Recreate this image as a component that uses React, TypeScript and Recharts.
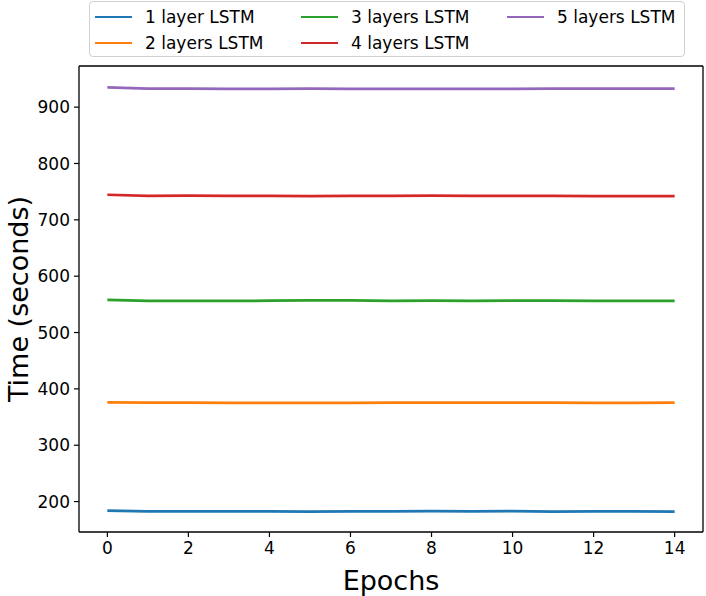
import { Line, LineChart, XAxis, YAxis } from 'recharts';

const epochs = [0, 1, 2, 3, 4, 5, 6, 7, 8, 9, 10, 11, 12, 13, 14];
const oneLayer = [184, 182.5, 182.5, 182.5, 182.5, 182, 182.5, 182.5, 183, 182.5, 183, 182, 182.5, 182.5, 182];
const twoLayers = [376, 375.5, 375.5, 375, 375, 375, 375, 375.5, 375.5, 375.5, 375.5, 375.5, 375, 375, 375.5];
const threeLayers = [558, 556, 556, 556, 556.5, 557, 557, 556, 556.5, 556, 556.5, 556.5, 556, 556, 556];
const fourLayers = [744.5, 742.5, 743, 742.5, 742.5, 742, 742.5, 742.5, 743, 742.5, 742.5, 742.5, 742, 742, 742];
const fiveLayers = [935, 933, 933, 932.5, 932.5, 933, 932.5, 932.5, 932.5, 932.5, 932.5, 933, 933, 933, 933];

const xTicks = [0, 2, 4, 6, 8, 10, 12, 14];
const yTicks = [200, 300, 400, 500, 600, 700, 800, 900];
const xDomain: [number, number] = [-0.7, 14.7];
const yDomain: [number, number] = [146, 973];

const series = [
  { key: 'l1', name: '1 layer LSTM', color: '#1f77b4', values: oneLayer },
  { key: 'l2', name: '2 layers LSTM', color: '#ff7f0e', values: twoLayers },
  { key: 'l3', name: '3 layers LSTM', color: '#2ca02c', values: threeLayers },
  { key: 'l4', name: '4 layers LSTM', color: '#d62728', values: fourLayers },
  { key: 'l5', name: '5 layers LSTM', color: '#9467bd', values: fiveLayers },
];

const data = epochs.map((epoch, i) => {
  const row: Record<string, number> = { epoch };
  series.forEach((s) => {
    row[s.key] = s.values[i];
  });
  return row;
});

// matplotlib fills the legend column by column, 2 rows
const legendCols = [
  [series[0], series[1]],
  [series[2], series[3]],
  [series[4]],
];

function LegendBox() {
  return (
    <div
      style={{
        position: 'absolute',
        left: 89,
        top: 1,
        border: '1px solid #d0d0d0',
        borderRadius: 4,
        background: '#fff',
        width: 596,
        height: 56,
        boxSizing: 'border-box',
        display: 'flex',
        padding: '2px 0 0 5px',
        fontSize: 17,
        color: '#000',
        whiteSpace: 'nowrap',
      }}
    >
      {legendCols.map((col, ci) => (
        <div key={ci} style={{ width: 206, flexShrink: 0 }}>
          {col.map((s) => (
            <div key={s.key} style={{ display: 'flex', alignItems: 'center', height: 26 }}>
              <span
                style={{
                  display: 'inline-block',
                  width: 37,
                  height: 2.7,
                  background: s.color,
                  marginRight: 13,
                  flexShrink: 0,
                }}
              />
              <span>{s.name}</span>
            </div>
          ))}
        </div>
      ))}
    </div>
  );
}

const axisStroke = { stroke: '#000', strokeWidth: 1.3 };

export default function App() {
  return (
    <div
      style={{
        position: 'absolute',
        left: 0,
        top: 0,
        width: 706,
        height: 596,
        background: '#fff',
        fontFamily: '"DejaVu Sans", sans-serif',
      }}
    >
      <LineChart
        width={706}
        height={596}
        data={data}
        margin={{ top: 65, right: 2, bottom: 0, left: 0 }}
      >
        <XAxis
          dataKey="epoch"
          type="number"
          domain={xDomain}
          ticks={xTicks}
          allowDataOverflow
          height={64}
          axisLine={axisStroke}
          tickLine={{ stroke: '#000', strokeWidth: 1.2 }}
          tickSize={5}
          tickMargin={5}
          tick={{ fontSize: 17, fill: '#000' }}
          label={{
            value: 'Epochs',
            position: 'center',
            dy: 16,
            style: { fontSize: 27, fill: '#000' },
          }}
        />
        <XAxis
          xAxisId="top"
          dataKey="epoch"
          type="number"
          orientation="top"
          domain={xDomain}
          allowDataOverflow
          height={1}
          axisLine={axisStroke}
          tick={false}
          tickLine={false}
        />
        <YAxis
          type="number"
          domain={yDomain}
          ticks={yTicks}
          allowDataOverflow
          width={79}
          axisLine={axisStroke}
          tickLine={{ stroke: '#000', strokeWidth: 1.2 }}
          tickSize={5}
          tickMargin={4}
          tick={{ fontSize: 17, fill: '#000' }}
          label={{
            value: 'Time (seconds)',
            angle: -90,
            position: 'center',
            dx: -21,
            style: { fontSize: 27, fill: '#000', textAnchor: 'middle' },
          }}
        />
        <YAxis
          yAxisId="right"
          type="number"
          orientation="right"
          domain={yDomain}
          allowDataOverflow
          width={1}
          axisLine={axisStroke}
          tick={false}
          tickLine={false}
        />
        {series.map((s) => (
          <Line
            key={s.key}
            dataKey={s.key}
            name={s.name}
            stroke={s.color}
            strokeWidth={2.7}
            dot={false}
            type="linear"
            isAnimationActive={false}
          />
        ))}
      </LineChart>
      <LegendBox />
    </div>
  );
}
